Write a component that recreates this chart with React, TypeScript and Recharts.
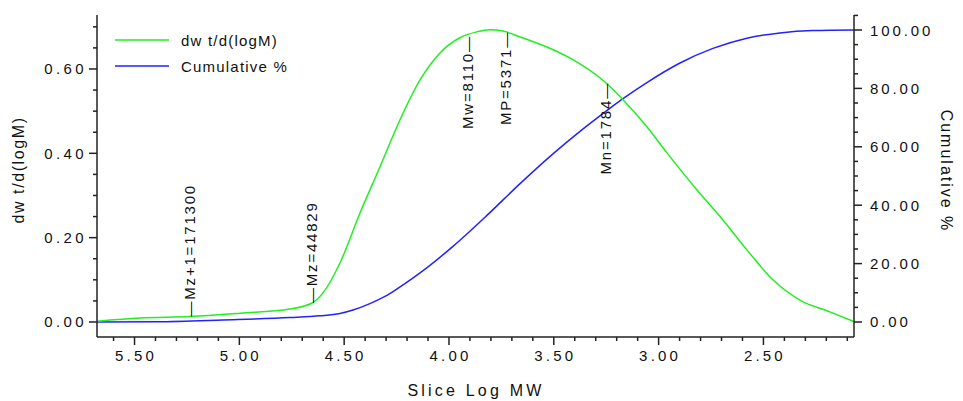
import React from 'react';
import { LineChart, Line, XAxis, YAxis, ReferenceDot, Legend } from 'recharts';

// ---- Data ----
const distLogM = [5.679, 5.474, 5.235, 4.997, 4.758, 4.653, 4.601, 4.52, 4.424, 4.329, 4.234, 4.138, 4.043, 3.948, 3.867, 3.805, 3.743, 3.661, 3.533, 3.409, 3.256, 3.17, 3.056, 2.96, 2.817, 2.693, 2.579, 2.455, 2.326, 2.183, 2.069];
const distValues = [0.002, 0.0095, 0.013, 0.021, 0.031, 0.045, 0.069, 0.14, 0.259, 0.368, 0.479, 0.574, 0.638, 0.674, 0.688, 0.693, 0.69, 0.676, 0.652, 0.622, 0.569, 0.527, 0.463, 0.401, 0.313, 0.242, 0.171, 0.1, 0.052, 0.024, 0.001];

const cumLogM = [5.679, 5.393, 5.078, 4.758, 4.615, 4.52, 4.458, 4.377, 4.296, 4.217, 4.138, 3.981, 3.819, 3.661, 3.504, 3.375, 3.28, 3.17, 3.056, 2.898, 2.741, 2.579, 2.421, 2.264, 2.069];
const cumValues = [0.0, 0.1, 0.7, 1.5, 2.1, 2.9, 4.1, 6.3, 9.1, 12.8, 16.8, 25.9, 36.5, 47.4, 57.6, 65.3, 70.6, 76.5, 82.0, 88.7, 93.7, 97.2, 99.0, 99.8, 100.0];

const markerLabels = ['Mz+1=171300', 'Mz=44829', 'Mw=8110', 'MP=5371', 'Mn=1784'];
const markerLogM = [5.234, 4.652, 3.909, 3.73, 3.251];
const markerValues = [0.013, 0.045, 0.68, 0.69, 0.569];
const markerAbove = [true, true, false, false, false];

const xTicks = [2.1, 2.2, 2.3, 2.4, 2.5, 2.6, 2.7, 2.8, 2.9, 3.0, 3.1, 3.2, 3.3, 3.4, 3.5, 3.6, 3.7, 3.8, 3.9, 4.0, 4.1, 4.2, 4.3, 4.4, 4.5, 4.6, 4.7, 4.8, 4.9, 5.0, 5.1, 5.2, 5.3, 5.4, 5.5, 5.6];
const leftTicks = [0, 0.05, 0.1, 0.15, 0.2, 0.25, 0.3, 0.35, 0.4, 0.45, 0.5, 0.55, 0.6, 0.65, 0.7];
const rightTicks = [0, 5, 10, 15, 20, 25, 30, 35, 40, 45, 50, 55, 60, 65, 70, 75, 80, 85, 90, 95, 100, 105];

const seriesNames = ['dw t/d(logM)', 'Cumulative %'];
const seriesColors = ['#22ee22', '#2222ff'];

const X_DOMAIN: [number, number] = [2.068, 5.679];
const LEFT_DOMAIN: [number, number] = [-0.0356, 0.728];
const RIGHT_DOMAIN: [number, number] = [-5.14, 105.14];

const distData = distLogM.map((x, i) => ({ x, y: distValues[i] }));
const cumData = cumLogM.map((x, i) => ({ x, y: cumValues[i] }));

const FONT = '"Liberation Sans", Arial, sans-serif';
const TXT = '#111';
const AX = '#222';

const isMult = (v: number, step: number) => Math.abs(v / step - Math.round(v / step)) < 1e-6;

const XTick = (props: any) => {
  const { x, y, payload } = props;
  const v = payload.value;
  const major = isMult(v, 0.5);
  return (
    <g>
      <line x1={x} x2={x} y1={y} y2={y + (major ? 8 : 4)} stroke={AX} strokeWidth={1.5} />
      {major && (
        <text x={x + 1.5} y={y + 24} textAnchor="middle" fontFamily={FONT} fontSize={15} letterSpacing={3.2} fill={TXT}>
          {v.toFixed(2)}
        </text>
      )}
    </g>
  );
};

const LeftTick = (props: any) => {
  const { x, y, payload } = props;
  const v = payload.value;
  const major = isMult(v, 0.2);
  return (
    <g>
      <line x1={x} x2={x - (major ? 8 : 4)} y1={y} y2={y} stroke={AX} strokeWidth={1.5} />
      {major && (
        <text x={x - 10} y={y + 5.5} textAnchor="end" fontFamily={FONT} fontSize={15} letterSpacing={3.4} fill={TXT}>
          {v.toFixed(2)}
        </text>
      )}
    </g>
  );
};

const RightTick = (props: any) => {
  const { x, y, payload } = props;
  const v = payload.value;
  const major = isMult(v, 20) && v <= 100;
  return (
    <g>
      <line x1={x} x2={x + (major ? 8 : 4)} y1={y} y2={y} stroke={AX} strokeWidth={1.5} />
      {major && (
        <text x={x + 16} y={y + 5.5} textAnchor="start" fontFamily={FONT} fontSize={15} letterSpacing={2.9} fill={TXT}>
          {v.toFixed(2)}
        </text>
      )}
    </g>
  );
};

const XTitle = () => (
  <text x={476} y={396} textAnchor="middle" fontFamily={FONT} fontSize={16} letterSpacing={3.2} fill={TXT}>
    Slice Log MW
  </text>
);

const LeftTitle = () => (
  <text x={18} y={170} dy="0.35em" transform="rotate(-90, 18, 170)" textAnchor="middle" fontFamily={FONT} fontSize={16} letterSpacing={1.6} fill={TXT}>
    dw t/d(logM)
  </text>
);

const RightTitle = () => (
  <text x={947} y={171} dy="0.35em" transform="rotate(90, 947, 171)" textAnchor="middle" fontFamily={FONT} fontSize={16} letterSpacing={2} fill={TXT}>
    Cumulative %
  </text>
);

const makeMarker = (label: string, above: boolean) => (p: any) => {
  const { cx, cy } = p;
  if (cx == null || cy == null) return <g />;
  return (
    <text
      x={cx}
      y={cy}
      dy="0.33em"
      transform={`rotate(-90, ${cx}, ${cy})`}
      textAnchor={above ? 'start' : 'end'}
      fontFamily={FONT}
      fontSize={15}
      letterSpacing={1.8}
      fill={TXT}
    >
      {above ? `\u2014${label}` : `${label}\u2014`}
    </text>
  );
};

const renderLegend = () => (
  <div style={{ fontFamily: FONT, fontSize: 15, letterSpacing: 1.2, color: TXT }}>
    {seriesNames.map((n, i) => (
      <div key={n} style={{ display: 'flex', alignItems: 'center', height: 26, whiteSpace: 'nowrap' }}>
        <svg width={69} height={4} style={{ display: 'block' }}>
          <line x1={3} x2={57} y1={2} y2={2} stroke={seriesColors[i]} strokeWidth={1.5} />
        </svg>
        <span>{n}</span>
      </div>
    ))}
  </div>
);

export default function App() {
  return (
    <div style={{ position: 'absolute', left: 0, top: 0, background: '#fff' }}>
      <LineChart width={963} height={401} margin={{ top: 15, right: 49, bottom: 24, left: 37 }}>
        <XAxis
          xAxisId="main"
          dataKey="x"
          type="number"
          domain={X_DOMAIN}
          reversed
          allowDataOverflow
          ticks={xTicks}
          interval={0}
          tickLine={false}
          tickSize={0}
          tickMargin={0}
          tick={<XTick />}
          axisLine={{ stroke: AX, strokeWidth: 1.5 }}
          height={40}
          label={XTitle}
        />
        <XAxis
          xAxisId="top"
          orientation="top"
          type="number"
          domain={X_DOMAIN}
          reversed
          allowDataOverflow
          height={0}
          tick={false}
          tickLine={false}
          axisLine={{ stroke: AX, strokeWidth: 1.5 }}
        />
        <YAxis
          yAxisId="left"
          type="number"
          domain={LEFT_DOMAIN}
          allowDataOverflow
          ticks={leftTicks}
          interval={0}
          tickLine={false}
          tickSize={0}
          tickMargin={0}
          tick={<LeftTick />}
          axisLine={{ stroke: AX, strokeWidth: 1.5 }}
          width={60}
          label={LeftTitle}
        />
        <YAxis
          yAxisId="right"
          orientation="right"
          type="number"
          domain={RIGHT_DOMAIN}
          allowDataOverflow
          ticks={rightTicks}
          interval={0}
          tickLine={false}
          tickSize={0}
          tickMargin={0}
          tick={<RightTick />}
          axisLine={{ stroke: AX, strokeWidth: 1.5 }}
          width={60}
          label={RightTitle}
        />
        <Legend
          layout="vertical"
          align="center"
          verticalAlign="middle"
          content={renderLegend}
          wrapperStyle={{ left: 112, top: 27, width: 220 }}
        />
        <Line
          xAxisId="main"
          yAxisId="right"
          data={cumData}
          dataKey="y"
          name={seriesNames[1]}
          type="monotone"
          stroke={seriesColors[1]}
          strokeWidth={1.5}
          dot={false}
          isAnimationActive={false}
        />
        <Line
          xAxisId="main"
          yAxisId="left"
          data={distData}
          dataKey="y"
          name={seriesNames[0]}
          type="monotone"
          stroke={seriesColors[0]}
          strokeWidth={1.5}
          dot={false}
          isAnimationActive={false}
        />
        {markerLabels.map((l, i) => (
          <ReferenceDot
            key={l}
            xAxisId="main"
            yAxisId="left"
            x={markerLogM[i]}
            y={markerValues[i]}
            r={0}
            ifOverflow="visible"
            shape={makeMarker(l, markerAbove[i])}
          />
        ))}
      </LineChart>
    </div>
  );
}
